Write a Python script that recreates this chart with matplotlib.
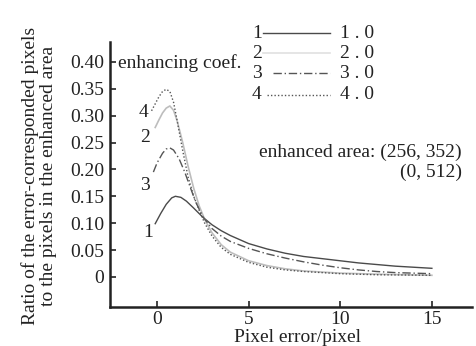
import matplotlib
matplotlib.use("Agg")
import matplotlib.pyplot as plt
from matplotlib.lines import Line2D

# ---- data ----
x1 = [-0.1, 0.2, 0.5, 0.8, 1.0, 1.3, 1.6, 2.0, 2.5, 3.0, 3.5, 4.0, 5.0, 6.0, 7.0, 8.0, 9.0, 10.0, 11.0, 12.0, 13.0, 14.0, 15.0]
y1 = [0.099, 0.118, 0.135, 0.147, 0.150, 0.148, 0.141, 0.128, 0.111, 0.097, 0.086, 0.077, 0.062, 0.052, 0.044, 0.038, 0.034, 0.030, 0.026, 0.023, 0.020, 0.018, 0.016]

x2 = [-0.1, 0.1, 0.3, 0.5, 0.7, 0.9, 1.1, 1.4, 1.7, 2.0, 2.3, 2.6, 3.0, 3.5, 4.0, 5.0, 6.0, 7.0, 8.0, 10.0, 12.0, 15.0]
y2 = [0.278, 0.292, 0.305, 0.314, 0.318, 0.310, 0.290, 0.250, 0.205, 0.165, 0.132, 0.107, 0.082, 0.060, 0.046, 0.030, 0.021, 0.015, 0.011, 0.007, 0.005, 0.003]

x3 = [-0.2, 0.0, 0.3, 0.5, 0.7, 0.9, 1.2, 1.5, 1.8, 2.1, 2.5, 3.0, 3.5, 4.0, 5.0, 6.0, 7.0, 8.0, 9.0, 10.0, 11.0, 12.0, 13.0, 14.0, 15.0]
y3 = [0.195, 0.212, 0.230, 0.238, 0.240, 0.236, 0.220, 0.196, 0.168, 0.140, 0.112, 0.090, 0.076, 0.066, 0.053, 0.043, 0.035, 0.028, 0.022, 0.017, 0.013, 0.010, 0.008, 0.007, 0.006]

x4 = [-0.3, -0.1, 0.1, 0.3, 0.5, 0.7, 0.9, 1.1, 1.4, 1.7, 2.0, 2.3, 2.6, 3.0, 3.5, 4.0, 5.0, 6.0, 7.0, 8.0, 10.0, 12.0, 15.0]
y4 = [0.309, 0.322, 0.335, 0.345, 0.349, 0.345, 0.325, 0.290, 0.235, 0.185, 0.150, 0.124, 0.100, 0.076, 0.055, 0.042, 0.027, 0.018, 0.013, 0.010, 0.006, 0.004, 0.003]

curve_ids = ["1", "2", "3", "4"]
coef_labels = ["1.0", "2.0", "3.0", "4.0"]
xticks = [0, 5, 10, 15]
yticks = [0, 0.05, 0.10, 0.15, 0.20, 0.25, 0.30, 0.35, 0.40]
ytick_labels = ["0", "0.05", "0.10", "0.15", "0.20", "0.25", "0.30", "0.35", "0.40"]

plt.rcParams['font.family'] = ['Liberation Serif', 'DejaVu Serif']
FS = 14
TC = '#222222'

fig = plt.figure(figsize=(4.76, 3.46), dpi=100)
ax = fig.add_axes([0.231, 0.1127, 0.761, 0.7659])

styles = [
    dict(color='#4a4a4a', lw=1.0, ls='-'),
    dict(color='#bdbdbd', lw=1.2, ls='-'),
    dict(color='#555555', lw=1.0, ls=(0, (6, 2, 1, 2))),
    dict(color='#555555', lw=1.0, ls=(0, (1, 1.5))),
]
for (xs, ys), st in zip([(x1, y1), (x2, y2), (x3, y3), (x4, y4)], styles):
    ax.plot(xs, ys, **st)

ax.set_xlim(-2.57, 17.2)
ax.set_ylim(-0.056, 0.437)
ax.set_xticks(xticks)
ax.set_yticks(yticks)
ax.set_yticklabels(ytick_labels)
for s in ['top', 'right']:
    ax.spines[s].set_visible(False)
for s in ['left', 'bottom']:
    ax.spines[s].set_linewidth(1.8)
    ax.spines[s].set_color(TC)
ax.tick_params(direction='in', length=4, width=1.2, labelsize=FS, colors=TC)
ax.tick_params(axis='y', pad=4)
ax.tick_params(axis='x', pad=3)

W, H = 476.0, 346.0
def fx(px): return px / W
def fy(py): return 1 - py / H

fig.text(fx(297), fy(345.5), "Pixel error/pixel", fontsize=FS, ha='center', va='bottom', color=TC)
fig.text(fx(39), fy(176), "Ratio of the error-corresponded pixels\nto the pixels in the enhanced area",
         fontsize=FS, rotation=90, ha='center', va='center', linespacing=1.1, color=TC)

# curve id labels near the left ends
for cid, (lx, ly) in zip(curve_ids, [(-0.5, 0.082), (-0.65, 0.26), (-0.65, 0.17), (-0.75, 0.305)]):
    ax.text(lx, ly, cid, fontsize=FS, ha='center', va='center', color=TC)

# custom legend
fig.text(fx(118), fy(63), "enhancing coef.", fontsize=FS, ha='left', va='center', color=TC)
rows = [33, 53, 73, 95]
line_starts = [263, 263, 273, 267]
for cid, lab, py, st, x0 in zip(curve_ids, coef_labels, rows, styles, line_starts):
    fig.text(fx(257), fy(py), cid, fontsize=FS, ha='center', va='center', color=TC)
    st2 = dict(st)
    if cid == "2":
        st2['color'] = '#e0e0e0'
    fig.add_artist(Line2D([fx(x0), fx(330)], [fy(py), fy(py)], transform=fig.transFigure, **st2))
    fig.text(fx(340), fy(py), lab.replace(".", " . "), fontsize=FS, ha='left', va='center', color=TC)

fig.text(fx(462), fy(152), "enhanced area: (256, 352)", fontsize=FS, ha='right', va='center', color=TC)
fig.text(fx(462), fy(172), "(0, 512)", fontsize=FS, ha='right', va='center', color=TC)

fig.savefig("out.png", dpi=100)
